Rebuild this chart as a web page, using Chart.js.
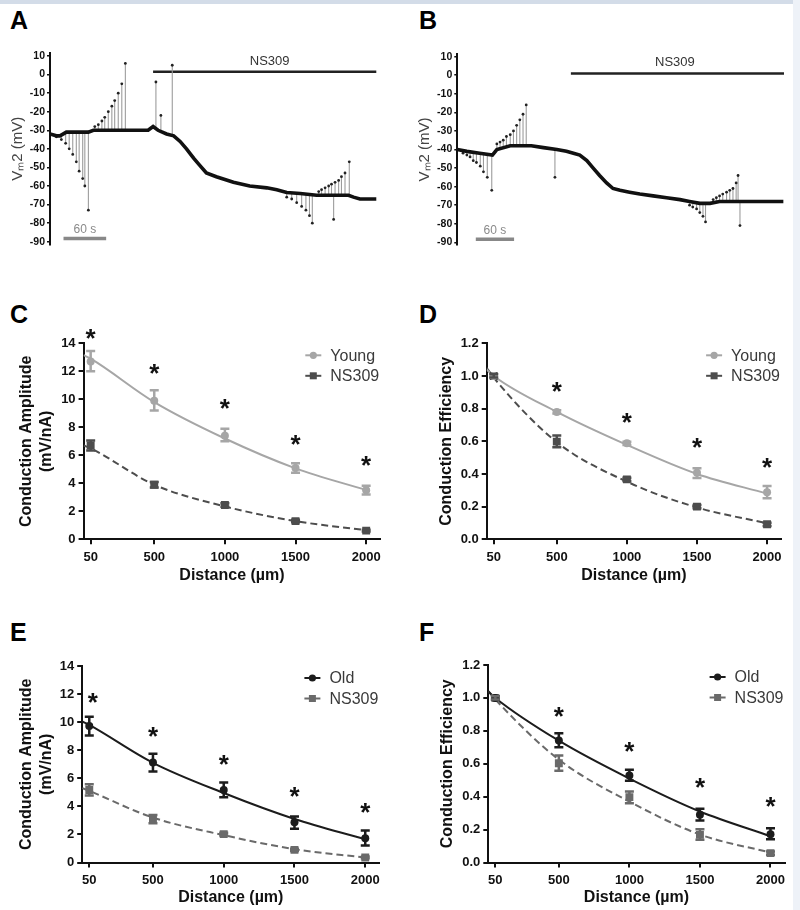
<!DOCTYPE html>
<html>
<head>
<meta charset="utf-8">
<script src="https://cdn.jsdelivr.net/npm/chart.js@4.4.0/dist/chart.umd.min.js"></script>
<style>
    body { margin: 0; width: 800px; height: 910px; background: #fff; position: relative; overflow: hidden; }
    .topline { position: absolute; left: 0; top: 0; width: 800px; height: 4px; background: #d3dce8; }
    .rightstrip { position: absolute; left: 793px; top: 0; width: 7px; height: 910px; background: #eef2f8; }
    .panel { position: absolute; }
    .letter { position: absolute; font: bold 25px 'Liberation Sans', Arial, sans-serif; line-height: 25px; color: #000; }
</style>
</head>
<body>
<div class="topline"></div>
<div class="rightstrip"></div>

<div class="letter" style="left:10px;top:8px">A</div>
<div class="letter" style="left:419px;top:8px">B</div>
<div class="letter" style="left:10px;top:302px">C</div>
<div class="letter" style="left:419px;top:302px">D</div>
<div class="letter" style="left:10px;top:620px">E</div>
<div class="letter" style="left:419px;top:620px">F</div>

<canvas id="chartA" class="panel" width="400" height="230" style="left:0;top:30px"></canvas>
<canvas id="chartB" class="panel" width="400" height="230" style="left:400px;top:30px"></canvas>
<canvas id="chartC" class="panel" width="400" height="310" style="left:0;top:290px"></canvas>
<canvas id="chartD" class="panel" width="400" height="310" style="left:400px;top:290px"></canvas>
<canvas id="chartE" class="panel" width="400" height="320" style="left:0;top:590px"></canvas>
<canvas id="chartF" class="panel" width="400" height="320" style="left:400px;top:590px"></canvas>

<script>
const fontFamily = "'Liberation Sans', Arial, Helvetica, sans-serif";
Chart.defaults.font.family = fontFamily;
Chart.defaults.color = '#111';

// ---- A / B : membrane potential traces (time in s, Vm in mV) ----
const vmTicks = [10, 0, -10, -20, -30, -40, -50, -60, -70, -80, -90];

const traceATime = [0, 9, 14, 23, 38, 54, 61, 84, 108, 127, 138, 145, 152, 164, 174, 183, 192, 202, 211, 220, 234, 258, 281, 305, 319, 333, 352, 375, 399, 420, 427, 436, 445, 459];
const traceAVm = [-32, -33, -33, -31, -31, -31, -30, -30, -30, -30, -30, -28, -30, -32, -33, -36, -40, -45, -49, -53, -55, -58, -60, -61, -62, -63.5, -64, -65, -65, -65, -66, -67, -67, -67];
const pulseATime = [9, 16, 22, 27, 32, 37, 41, 46, 49, 54, 63, 68, 73, 77, 82, 87, 91, 96, 101, 106, 149, 156, 172, 333, 340, 347, 354, 360, 365, 369, 378, 382, 387, 392, 396, 399, 401, 406, 410, 415, 421];
const pulseABase = [-33, -33, -32, -32, -31, -31, -31, -31, -31, -31, -30, -30, -30, -30, -30, -30, -30, -30, -30, -30, -29, -30, -33, -64, -64, -64, -64, -64, -64, -64, -65, -65, -65, -65, -65, -65, -65, -65, -65, -65, -65];
const pulseAPeak = [-33.5, -35, -37, -40, -43, -47, -52, -56, -60, -73, -28, -27, -25, -23, -20, -17, -14, -10, -5, 6, -4, -22, 5, -66, -67, -69, -71, -73, -76, -80, -63, -62, -61, -60, -59, -78, -58, -57, -55, -53, -47];

const traceBTime = [0, 15, 35, 55, 62, 83, 108, 116, 135, 156, 171, 182, 192, 203, 213, 223, 234, 244, 255, 270, 286, 307, 328, 349, 364, 380, 396, 411, 432, 453, 469, 484, 511];
const traceBVm = [-40, -41, -42, -43, -40, -38, -38, -38, -39, -40, -41, -42, -43, -46, -50, -54, -58, -61, -62, -63, -64, -65, -66, -67, -68, -69, -69, -68, -68, -68, -68, -68, -68];
const pulseBTime = [9, 15, 20, 25, 30, 36, 41, 47, 54, 62, 67, 72, 77, 83, 88, 93, 98, 103, 108, 153, 364, 369, 375, 380, 385, 389, 401, 406, 411, 416, 422, 427, 432, 437, 440, 443];
const pulseBBase = [-40, -41, -41, -41, -42, -42, -42, -42, -43, -40, -39, -39, -39, -38, -38, -38, -38, -38, -38, -40, -69, -69, -69, -69, -69, -69, -68, -68, -68, -68, -68, -68, -68, -68, -68, -68];
const pulseBPeak = [-42, -43, -44, -46, -47, -49, -52, -55, -62, -37, -36, -35, -33, -32, -30, -27, -24, -21, -16, -55, -70, -71, -72, -74, -76, -79, -67, -66, -65, -64, -63, -62, -61, -58, -54, -81];

// ---- C-F : conduction vs distance ----
const distances = [50, 500, 1000, 1500, 2000];
const distTicks = [50, 500, 1000, 1500, 2000];
const fitDistances = [0, 50, 500, 1000, 1500, 2000];
const ampTicks = [0, 2, 4, 6, 8, 10, 12, 14];
const effTicks = [0, 0.2, 0.4, 0.6, 0.8, 1.0, 1.2];

// C
const ampYoung = [12.7, 9.9, 7.4, 5.1, 3.5];
const ampYoungLo = [12.0, 9.2, 7.0, 4.75, 3.2];
const ampYoungHi = [13.45, 10.65, 7.9, 5.43, 3.83];
const ampYoungFit = [13.15, 12.9, 9.8, 7.2, 5.07, 3.52];
const ampYoungNS = [6.7, 3.9, 2.45, 1.3, 0.62];
const ampYoungNSLo = [6.35, 3.7, 2.33, 1.22, 0.56];
const ampYoungNSHi = [7.05, 4.1, 2.57, 1.4, 0.68];
const ampYoungNSFit = [6.7, 6.5, 3.9, 2.35, 1.3, 0.65];
const ampYoungStarX = [50, 500, 1000, 1500, 2000];
const ampYoungStarY = [14.7, 12.2, 9.65, 7.1, 5.6];

// D
const effYoung = [1.0, 0.78, 0.588, 0.408, 0.288];
const effYoungLo = [0.99, 0.77, 0.578, 0.375, 0.252];
const effYoungHi = [1.01, 0.79, 0.598, 0.435, 0.327];
const effYoungFit = [1.04, 1.0, 0.78, 0.578, 0.4, 0.28];
const effYoungNS = [1.0, 0.598, 0.367, 0.2, 0.092];
const effYoungNSLo = [0.99, 0.563, 0.357, 0.19, 0.082];
const effYoungNSHi = [1.01, 0.635, 0.377, 0.21, 0.102];
const effYoungNSFit = [1.05, 0.99, 0.595, 0.353, 0.195, 0.098];
const effYoungStarX = [500, 1000, 1500, 2000];
const effYoungStarY = [0.935, 0.74, 0.588, 0.465];

// E
const ampOld = [9.73, 7.12, 5.17, 2.87, 1.73];
const ampOldLo = [9.04, 6.48, 4.65, 2.4, 1.21];
const ampOldHi = [10.39, 7.74, 5.7, 3.27, 2.28];
const ampOldFit = [10.05, 9.8, 7.1, 4.95, 3.1, 1.65];
const ampOldNS = [5.17, 3.08, 2.02, 0.9, 0.36];
const ampOldNSLo = [4.77, 2.8, 1.92, 0.82, 0.3];
const ampOldNSHi = [5.58, 3.39, 2.12, 0.98, 0.42];
const ampOldNSFit = [5.3, 5.1, 3.2, 1.95, 0.95, 0.35];
const ampOldStarX = [75, 500, 1000, 1500, 2000];
const ampOldStarY = [11.75, 9.33, 7.3, 5.05, 3.87];

// F
const effOld = [1.0, 0.741, 0.528, 0.29, 0.172];
const effOldLo = [0.99, 0.70, 0.496, 0.255, 0.142];
const effOldHi = [1.01, 0.785, 0.563, 0.326, 0.208];
const effOldFit = [1.04, 1.0, 0.74, 0.51, 0.31, 0.16];
const effOldNS = [1.0, 0.603, 0.397, 0.168, 0.057];
const effOldNSLo = [0.99, 0.557, 0.36, 0.138, 0.047];
const effOldNSHi = [1.01, 0.65, 0.431, 0.202, 0.067];
const effOldNSFit = [1.04, 0.99, 0.625, 0.37, 0.17, 0.06];
const effOldStarX = [500, 1000, 1500, 2000];
const effOldStarY = [0.917, 0.704, 0.482, 0.366];

const young = '#a6a6a6', youngNS = '#4d4d4d', old = '#1c1c1c', oldNS = '#6a6a6a';

function toPoints(xs, ys) {
    return xs.map((x, i) => ({x: x, y: ys[i]}));
}

// vertical gray lines for the current pulses, separated by gaps
function pulseSegments(times, base, peak) {
    const pts = [];
    times.forEach(function (t, i) {
        pts.push({x: t, y: base[i]}, {x: t, y: peak[i]}, {x: t, y: null});
    });
    return pts;
}

function textPlugin(items) {
    return {
        id: 'traceText',
        afterDatasetsDraw(chart) {
            const {ctx, scales: {x, y}} = chart;
            ctx.save();
            items.forEach(function (it) {
                ctx.font = it.font;
                ctx.fillStyle = it.color;
                ctx.textAlign = 'center';
                ctx.textBaseline = 'middle';
                ctx.fillText(it.text, x.getPixelForValue(it.x), y.getPixelForValue(it.y));
            });
            ctx.restore();
        }
    };
}

function tracePanel(id, t, vm, pT, pBase, pPeak, xMax, bar, scaleBar, layout) {
    const datasets = [
        {data: toPoints(t, vm), borderColor: '#111', borderWidth: 3.6, pointRadius: 0, tension: 0},
        {data: toPoints(pT, pPeak), showLine: false, pointRadius: 1.4, pointBackgroundColor: '#222', pointBorderWidth: 0},
        {data: pulseSegments(pT, pBase, pPeak), borderColor: '#9c9c9c', borderWidth: 1.1, pointRadius: 0, spanGaps: false},
        {data: toPoints(bar.x, bar.y), borderColor: '#222', borderWidth: 2.5, pointRadius: 0},
        {data: toPoints(scaleBar.x, scaleBar.y), borderColor: '#888', borderWidth: 3.5, pointRadius: 0}
    ];
    new Chart(document.getElementById(id), {
        type: 'line',
        data: {datasets: datasets},
        options: {
            responsive: false, animation: false, devicePixelRatio: 1,
            layout: {padding: {left: 0, top: layout.top, right: layout.right, bottom: layout.bottom}},
            plugins: {legend: {display: false}, tooltip: {enabled: false}},
            scales: {
                x: {type: 'linear', min: 0, max: xMax, display: false},
                y: {
                    min: -91.5, max: 11.5,
                    afterBuildTicks: function (s) { s.ticks = vmTicks.map(v => ({value: v})); },
                    afterFit: function (s) { s.width = layout.yWidth; },
                    border: {color: '#111', width: 2},
                    grid: {drawOnChartArea: false, drawTicks: true, tickLength: 3, color: '#111', lineWidth: 1.5},
                    ticks: {font: {size: 10.5, weight: 'bold'}, color: '#111', padding: 2},
                    title: {display: true, text: 'Vₘ2 (mV)', color: '#444', font: {size: 15}, padding: {top: layout.titlePad}}
                }
            }
        },
        plugins: [textPlugin([
            {text: 'NS309', x: bar.labelX, y: 7, font: '13px ' + fontFamily, color: '#333'},
            {text: '60 s', x: (scaleBar.x[0] + scaleBar.x[1]) / 2, y: -83.5, font: '12px ' + fontFamily, color: '#8a8a8a'}
        ])]
    });
}

const errorBarPlugin = {
    id: 'errorBars',
    afterDatasetsDraw(chart) {
        const {ctx, scales: {x, y}} = chart;
        ctx.save();
        chart.data.datasets.forEach(function (ds) {
            if (!ds.errLo) return;
            ctx.strokeStyle = ds.borderColor;
            ctx.lineWidth = 2.5;
            ds.data.forEach(function (p, i) {
                const px = x.getPixelForValue(p.x);
                const lo = y.getPixelForValue(ds.errLo[i]);
                const hi = y.getPixelForValue(ds.errHi[i]);
                ctx.beginPath();
                ctx.moveTo(px, lo); ctx.lineTo(px, hi);
                ctx.moveTo(px - 4.5, lo); ctx.lineTo(px + 4.5, lo);
                ctx.moveTo(px - 4.5, hi); ctx.lineTo(px + 4.5, hi);
                ctx.stroke();
            });
        });
        ctx.restore();
    }
};

function starPlugin(xs, ys) {
    return {
        id: 'stars',
        afterDatasetsDraw(chart) {
            const {ctx, scales: {x, y}} = chart;
            ctx.save();
            ctx.font = 'bold 26px ' + fontFamily;
            ctx.fillStyle = '#111';
            ctx.textAlign = 'center';
            ctx.textBaseline = 'alphabetic';
            const m = ctx.measureText('*');
            const shift = (m.actualBoundingBoxAscent - m.actualBoundingBoxDescent) / 2;
            xs.forEach(function (v, i) {
                ctx.fillText('*', x.getPixelForValue(v), y.getPixelForValue(ys[i]) + shift);
            });
            ctx.restore();
        }
    };
}

// legend with a short line and the marker in the middle, top right of the plot
function legendPlugin(series) {
    return {
        id: 'fitLegend',
        afterDraw(chart) {
            const {ctx, chartArea} = chart;
            ctx.save();
            series.forEach(function (s, i) {
                const yy = chartArea.top + 12 + i * 20.5;
                const x0 = chartArea.right - 75;
                ctx.strokeStyle = s.color;
                ctx.fillStyle = s.color;
                ctx.lineWidth = 2;
                ctx.beginPath();
                ctx.moveTo(x0, yy); ctx.lineTo(x0 + 16, yy);
                ctx.stroke();
                if (s.style === 'circle') {
                    ctx.beginPath();
                    ctx.arc(x0 + 8, yy, 3.6, 0, Math.PI * 2);
                    ctx.fill();
                } else {
                    ctx.fillRect(x0 + 4.5, yy - 3.5, 7, 7);
                }
                ctx.font = '16px ' + fontFamily;
                ctx.fillStyle = '#3a3a3a';
                ctx.textAlign = 'left';
                ctx.textBaseline = 'middle';
                ctx.fillText(s.label, x0 + 25, yy + 1);
            });
            ctx.restore();
        }
    };
}

function distancePanel(id, cfg) {
    const datasets = [];
    cfg.series.forEach(function (s) {
        datasets.push({
            data: toPoints(distances, s.y), showLine: false,
            pointStyle: s.style, pointRadius: s.style === 'circle' ? 4 : 5.6,
            pointBackgroundColor: s.color, pointBorderWidth: 0,
            borderColor: s.color, errLo: s.lo, errHi: s.hi
        });
    });
    cfg.series.forEach(function (s) {
        datasets.push({
            data: toPoints(fitDistances, s.fit), borderColor: s.color, borderWidth: 2,
            borderDash: s.dash ? [7, 4] : [], pointRadius: 0, cubicInterpolationMode: 'monotone'
        });
    });
    const L = cfg.layout;
    new Chart(document.getElementById(id), {
        type: 'line',
        data: {datasets: datasets},
        options: {
            responsive: false, animation: false, devicePixelRatio: 1,
            layout: {padding: {left: 0, top: L.top, right: L.right, bottom: 0}},
            plugins: {legend: {display: false}, tooltip: {enabled: false}},
            scales: {
                x: {
                    type: 'linear', min: 0, max: 2100,
                    afterBuildTicks: function (s) { s.ticks = distTicks.map(v => ({value: v})); },
                    afterFit: function (s) { s.height = L.xHeight; },
                    border: {color: '#111', width: 2},
                    grid: {drawOnChartArea: false, drawTicks: true, tickLength: 5, color: '#111', lineWidth: 2},
                    ticks: {font: {size: 13, weight: 'bold'}, color: '#111', padding: 5, maxRotation: 0, callback: v => String(v)},
                    title: {display: true, text: 'Distance (µm)', color: '#111', font: {size: 16, weight: 'bold', lineHeight: 1.25}, padding: {bottom: L.xTitlePad}}
                },
                y: {
                    min: 0, max: cfg.yMax,
                    afterBuildTicks: function (s) { s.ticks = cfg.yTicks.map(v => ({value: v})); },
                    afterFit: function (s) { s.width = L.yWidth; },
                    border: {color: '#111', width: 2},
                    grid: {drawOnChartArea: false, drawTicks: true, tickLength: 5, color: '#111', lineWidth: 2},
                    ticks: {font: {size: 13, weight: 'bold'}, color: '#111', padding: 3, callback: cfg.yFmt},
                    title: {display: true, text: cfg.yTitle, color: '#111', font: {size: 16, weight: 'bold', lineHeight: 1.25}, padding: {top: L.yTitlePad}}
                }
            }
        },
        plugins: [errorBarPlugin, starPlugin(cfg.starX, cfg.starY), legendPlugin(cfg.series)]
    });
}

tracePanel('chartA', traceATime, traceAVm, pulseATime, pulseABase, pulseAPeak, 460,
    {x: [145, 459], y: [1.5, 1.5], labelX: 309},
    {x: [19, 79], y: [-88.3, -88.3]},
    {top: 23.2, right: 23, bottom: 15.5, yWidth: 50, titlePad: 9});

tracePanel('chartB', traceBTime, traceBVm, pulseBTime, pulseBBase, pulseBPeak, 512,
    {x: [178, 513], y: [1, 1], labelX: 341},
    {x: [29, 89], y: [-88.3, -88.3]},
    {top: 23.9, right: 16, bottom: 14.9, yWidth: 57.3, titlePad: 16});

const ampFmt = v => String(v);
const effFmt = v => v.toFixed(1);

distancePanel('chartC', {
    yMax: 14, yTicks: ampTicks, yFmt: ampFmt, yTitle: ['Conduction Amplitude', '(mV/nA)'],
    starX: ampYoungStarX, starY: ampYoungStarY,
    series: [
        {label: 'Young', y: ampYoung, lo: ampYoungLo, hi: ampYoungHi, fit: ampYoungFit, color: young, style: 'circle', dash: false},
        {label: 'NS309', y: ampYoungNS, lo: ampYoungNSLo, hi: ampYoungNSHi, fit: ampYoungNSFit, color: youngNS, style: 'rect', dash: true}
    ],
    layout: {top: 53.3, right: 19.7, yWidth: 83.6, xHeight: 60.7, xTitlePad: 14, yTitlePad: 16.7}
});

distancePanel('chartD', {
    yMax: 1.2, yTicks: effTicks, yFmt: effFmt, yTitle: 'Conduction Efficiency',
    starX: effYoungStarX, starY: effYoungStarY,
    series: [
        {label: 'Young', y: effYoung, lo: effYoungLo, hi: effYoungHi, fit: effYoungFit, color: young, style: 'circle', dash: false},
        {label: 'NS309', y: effYoungNS, lo: effYoungNSLo, hi: effYoungNSHi, fit: effYoungNSFit, color: youngNS, style: 'rect', dash: true}
    ],
    layout: {top: 53.3, right: 18.9, yWidth: 86.7, xHeight: 60.7, xTitlePad: 14, yTitlePad: 36.7}
});

distancePanel('chartE', {
    yMax: 14, yTicks: ampTicks, yFmt: ampFmt, yTitle: ['Conduction Amplitude', '(mV/nA)'],
    starX: ampOldStarX, starY: ampOldStarY,
    series: [
        {label: 'Old', y: ampOld, lo: ampOldLo, hi: ampOldHi, fit: ampOldFit, color: old, style: 'circle', dash: false},
        {label: 'NS309', y: ampOldNS, lo: ampOldNSLo, hi: ampOldNSHi, fit: ampOldNSFit, color: oldNS, style: 'rect', dash: true}
    ],
    layout: {top: 76, right: 20.6, yWidth: 82.2, xHeight: 47.5, xTitlePad: 2, yTitlePad: 16.7}
});

distancePanel('chartF', {
    yMax: 1.2, yTicks: effTicks, yFmt: effFmt, yTitle: 'Conduction Efficiency',
    starX: effOldStarX, starY: effOldStarY,
    series: [
        {label: 'Old', y: effOld, lo: effOldLo, hi: effOldHi, fit: effOldFit, color: old, style: 'circle', dash: false},
        {label: 'NS309', y: effOldNS, lo: effOldNSLo, hi: effOldNSHi, fit: effOldNSFit, color: oldNS, style: 'rect', dash: true}
    ],
    layout: {top: 75, right: 15.4, yWidth: 88.3, xHeight: 47.5, xTitlePad: 2, yTitlePad: 37.7}
});
</script>
</body>
</html>
